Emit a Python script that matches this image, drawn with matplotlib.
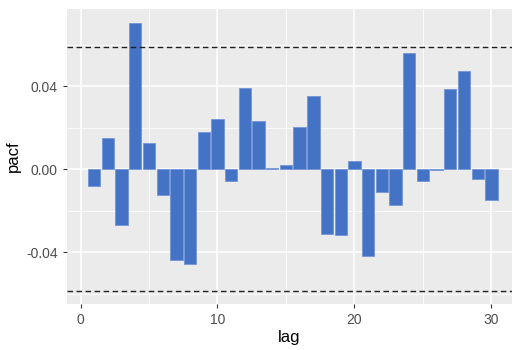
import matplotlib
matplotlib.use("Agg")
import matplotlib.pyplot as plt
from matplotlib.ticker import FixedLocator

plt.rcParams['font.family'] = ['Liberation Sans', 'DejaVu Sans']

lags = list(range(1, 31))
pacf = [-0.0080, 0.0151, -0.0271, 0.0705, 0.0127, -0.0125, -0.0437, -0.0456,
        0.0178, 0.0243, -0.0056, 0.0392, 0.0231, 0.0005, 0.0018, 0.0202,
        0.0352, -0.0312, -0.0316, 0.0040, -0.0421, -0.0109, -0.0172, 0.0561,
        -0.0056, -0.0005, 0.0387, 0.0474, -0.0047, -0.0149]
conf = 0.059
xticks = [0, 10, 20, 30]
yticks = [-0.04, 0.00, 0.04]
ytick_labels = ["-0.04", "0.00", "0.04"]

fig = plt.figure(figsize=(5.14, 3.5), dpi=100)
ax = fig.add_axes([0.130, 0.131, 0.866, 0.843])
ax.set_facecolor("#EBEBEB")
for s in ax.spines.values():
    s.set_visible(False)

ax.set_xlim(-1.0, 31.5)
ax.set_ylim(-0.0651, 0.0771)
ax.xaxis.set_major_locator(FixedLocator(xticks))
ax.xaxis.set_minor_locator(FixedLocator([5, 15, 25]))
ax.yaxis.set_major_locator(FixedLocator(yticks))
ax.yaxis.set_minor_locator(FixedLocator([-0.06, -0.02, 0.02, 0.06]))
ax.set_yticklabels(ytick_labels)
ax.grid(which="major", color="white", linewidth=1.1)
ax.grid(which="minor", color="white", linewidth=0.55)
ax.set_axisbelow(True)

ax.bar(lags, pacf, width=0.9, color="#4472C4", edgecolor="#7396D6", linewidth=0.6, zorder=2)
ax.axhline(conf, color="#222222", linestyle=(0, (4, 2.5)), linewidth=1.0, zorder=3)
ax.axhline(-conf, color="#222222", linestyle=(0, (4, 2.5)), linewidth=1.0, zorder=3)

ax.tick_params(which="major", length=3, width=0.8, color="#333333",
               labelcolor="#4D4D4D", labelsize=10)
ax.tick_params(which="minor", length=0)
ax.set_xlabel("lag", fontsize=12, color="black", labelpad=2)
ax.set_ylabel("pacf", fontsize=12, color="black", labelpad=4)

fig.savefig("out.png", dpi=100)
